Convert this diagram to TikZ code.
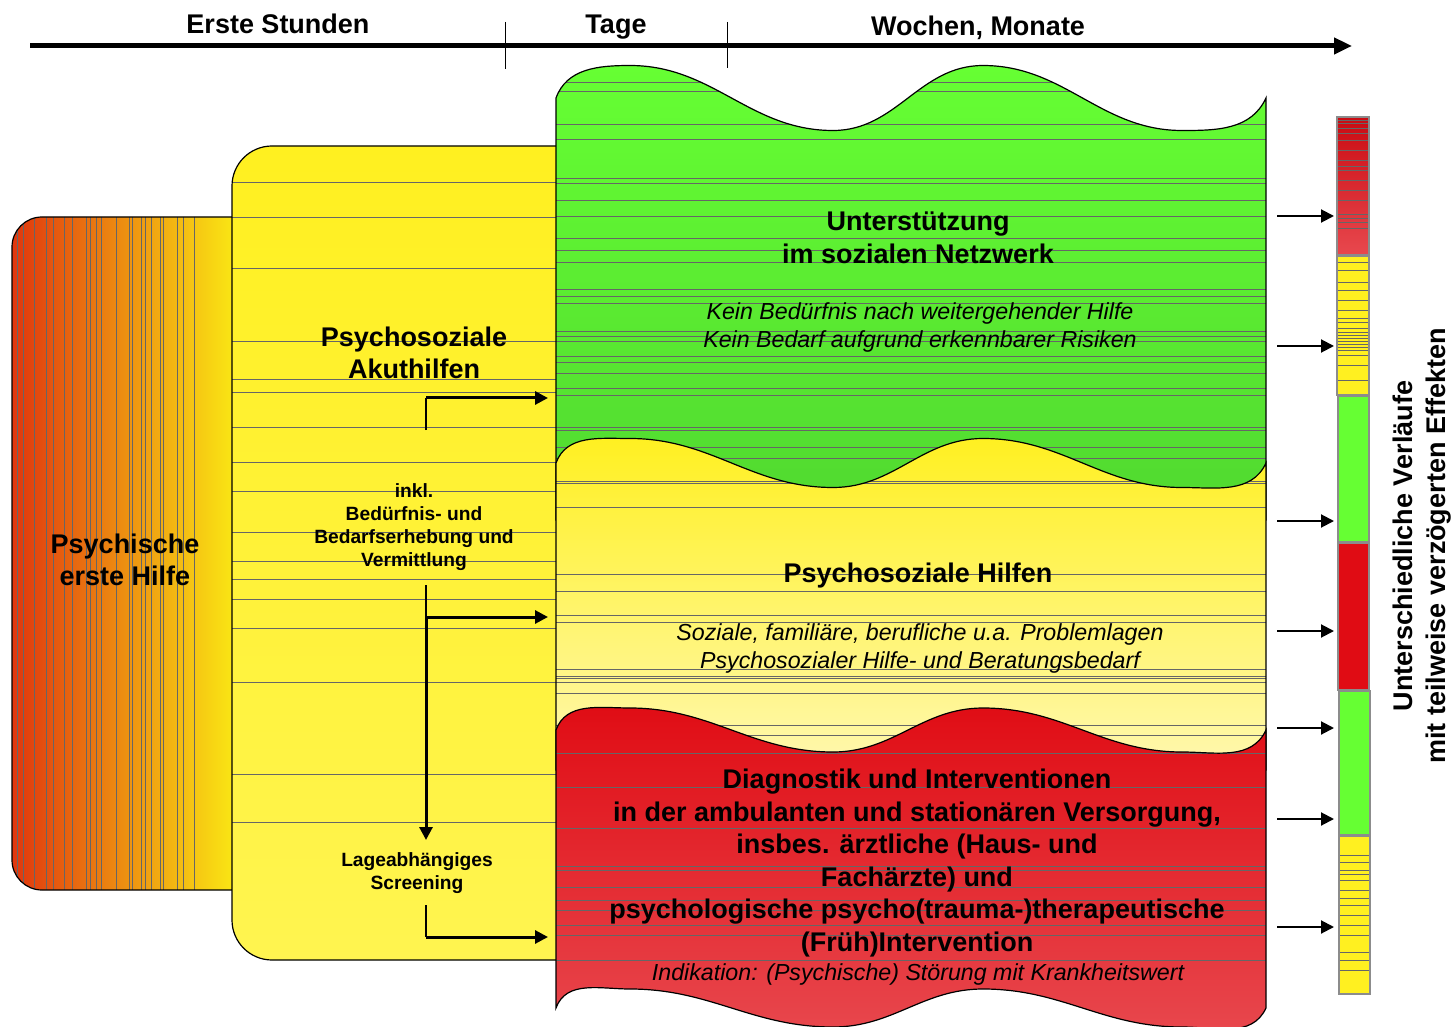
\documentclass[tikz,border=0pt]{standalone}
\usepackage{fontspec}
\setmainfont{Liberation Sans}
\usetikzlibrary{arrows.meta}

\definecolor{gruen}{HTML}{66FF33}
\definecolor{gruendunkel}{HTML}{50D830}
\definecolor{gelb}{HTML}{FFF020}
\definecolor{gelbkasten}{HTML}{FFF450}
\definecolor{gelbhell}{HTML}{FFF8B0}
\definecolor{rot}{HTML}{E00C14}
\definecolor{rothell}{HTML}{E8484E}
\definecolor{orangerot}{HTML}{E0360E}
\definecolor{orange}{HTML}{F0A012}
\definecolor{gelborange}{HTML}{FAE814}

\newcommand{\wellehin}[2]{(556,#1) to[out=70,in=180] (630,#1-#2) to[out=0,in=180] (833,#1+#2) to[out=0,in=180] (983,#1-#2) to[out=0,in=180] (1182,#1+#2) to[out=0,in=245] (1266,#1)}
\newcommand{\welleher}[2]{(1266,#1) to[out=245,in=0] (1182,#1+#2) to[out=180,in=0] (983,#1-#2) to[out=180,in=0] (833,#1+#2) to[out=180,in=0] (630,#1-#2) to[out=180,in=70] (556,#1)}

\begin{document}
\begin{tikzpicture}[x=0.5pt, y=-0.5pt,
  feld/.style={draw=black, line width=0.6pt},
  band/.style={black!60, line width=0.3pt},
  titel/.style={font=\bfseries\fontsize{13.5}{16.3}\selectfont, align=center},
  klein/.style={font=\bfseries\fontsize{9.6}{11.5}\selectfont, align=center},
  kursiv/.style={font=\itshape\fontsize{11.6}{14}\selectfont, align=center},
  zeitachse/.style={line width=2.5pt, -{Triangle[length=9pt,width=8pt]}},
  pfeil/.style={line width=1.5pt, -{Triangle[length=6.5pt,width=6.5pt]}},
  stiel/.style={line width=0.6pt},
  balken/.style={draw=black!45, line width=1.2pt}]
\useasboundingbox (0,0) rectangle (1452,1027);

\node[titel] (stunden) at (278,24) {Erste Stunden};
\node[titel] (tage) at (616,27) {Tage};
\node[titel] (wochen) at (978,28) {Wochen, Monate};
\coordinate (achseA) at (30,46);
\coordinate (achseB) at (1352,46);
\draw[zeitachse] (achseA) -- (achseB);
\coordinate (tageO) at (505,22);
\coordinate (tageU) at (505,69);
\coordinate (wochenO) at (727,22);
\coordinate (wochenU) at (727,68);
\draw[line width=0.5pt] (tageO) -- (tageU);
\draw[line width=0.5pt] (wochenO) -- (wochenU);

\draw[feld, rounded corners=15pt, left color=orangerot, middle color=orange, right color=gelborange,
  path picture={\foreach \x in {17,23,34,46,53,64,72,86,90,96,101,116,129,132,141,145,151,160,163,177,183,194}
    \draw[band] (\x,217) -- (\x,890);}]
  (236,217) -| (12,890) -- (236,890);
\node[titel] (erste) at (125,560) {Psychische\\erste Hilfe};

\draw[feld, rounded corners=20pt, top color=gelb, bottom color=gelbkasten,
  path picture={\foreach \y in {182,217,268,341,379,392,427,462,491,532,561,579,599,628,682,774,822}
    \draw[band] (232,\y) -- (556,\y);}]
  (580,146) -| (232,960) -- (580,960);
\node[titel] (akut) at (414,353) {Psychosoziale\\Akuthilfen};
\node[klein] (inkl) at (414,527) {inkl.\\Bedürfnis- und\\Bedarfserhebung und\\Vermittlung};
\node[klein] (screening) at (417,873) {Lageabhängiges\\Screening};

\draw[feld, top color=gruen, bottom color=gruendunkel,
  path picture={\foreach \y in {82,91,124,139,178,183,200,216,238,250,262,289,296,303,331,336,341,356,362,373,388,395,427,430,447,458}
    \draw[band] (556,\y) -- (1266,\y);}]
  \wellehin{98}{32.5} -- (1266,520) -- (556,520) -- cycle;
\draw[feld, top color=gelb, bottom color=gelbhell,
  path picture={\foreach \y in {481,483,507,574,591,615,622,669,676,678,682,693,725,735}
    \draw[band] (556,\y) -- (1266,\y);}]
  \wellehin{463}{24.5} -- (1266,770) -- (556,770) -- cycle;
\draw[feld, top color=rot, bottom color=rothell,
  path picture={\foreach \y in {753,787,828,866,870,887,900,910,925,935,960}
    \draw[band] (556,\y) -- (1266,\y);}]
  \wellehin{730}{22} -- \welleher{1008}{19} -- cycle;

\node[titel] (netzwerk) at (918,238) {Unterstützung\\im sozialen Netzwerk};
\node[kursiv] (kein) at (920,328) {Kein Bedürfnis nach weitergehender Hilfe\\Kein Bedarf aufgrund erkennbarer Risiken};
\node[titel] (hilfen) at (918,576) {Psychosoziale Hilfen};
\node[kursiv] (problem) at (920,648) {Soziale, familiäre, berufliche u.a. Problemlagen\\Psychosozialer Hilfe- und Beratungsbedarf};
\node[titel] (diagnostik) at (917,863) {Diagnostik und Interventionen\\in der ambulanten und stationären Versorgung,\\insbes. ärztliche (Haus- und\\Fachärzte) und\\psychologische psycho(trauma-)therapeutische\\(Früh)Intervention};
\node[kursiv] (indikation) at (918,974) {Indikation: (Psychische) Störung mit Krankheitswert};

\coordinate (a1) at (426,430);
\coordinate (a1k) at (426,398);
\coordinate (a1e) at (548,398);
\coordinate (a2) at (426,585);
\coordinate (a2k) at (426,617);
\coordinate (a2e) at (548,617);
\coordinate (a2u) at (426,840);
\coordinate (a3) at (426,905);
\coordinate (a3k) at (426,937);
\coordinate (a3e) at (548,937);
\draw[stiel] (a1) -- (a1k);
\draw[pfeil] (a1k) -- (a1e);
\draw[stiel] (a2) -- (a2k);
\draw[pfeil] (a2k) -- (a2e);
\draw[pfeil] (a2k) -- (a2u);
\draw[stiel] (a3) -- (a3k);
\draw[pfeil] (a3k) -- (a3e);

\draw[balken, top color=rot!90!black, bottom color=rothell,
  path picture={\foreach \y in {120,123,128,133,140,150,160,166,170,180,190,200,214,218,222,228}
    \draw[band] (1337,\y) -- (1369,\y);}] (1337,117) rectangle (1369,255);
\draw[balken, fill=gelb,
  path picture={\foreach \y in {262,270,282,290,300,310,318,322,328,332,335,338,341,344,347,350,355,365,380}
    \draw[band] (1337,\y) -- (1369,\y);}] (1337,256) rectangle (1369,395);
\draw[balken, fill=gruen] (1338,396) rectangle (1369,542);
\draw[balken, fill=rot] (1338,543) rectangle (1369,690);
\draw[balken, fill=gruen] (1339,691) rectangle (1370,835);
\draw[balken, fill=gelb,
  path picture={\foreach \y in {855,862,870,874,880,890,898,905,915,925,935,952,960,970}
    \draw[band] (1339,\y) -- (1370,\y);}] (1339,836) rectangle (1370,994);

\foreach \y [count=\i] in {216,346,521,631,728,819,927} {
  \coordinate (r\i) at (1277,\y);
  \coordinate (s\i) at (1334,\y);
  \draw[pfeil, line width=1pt] (r\i) -- (s\i);
}

\node[titel, rotate=90] (verlaeufe) at (1422,546) {Unterschiedliche Verläufe\\mit teilweise verzögerten Effekten};
\end{tikzpicture}
\end{document}
